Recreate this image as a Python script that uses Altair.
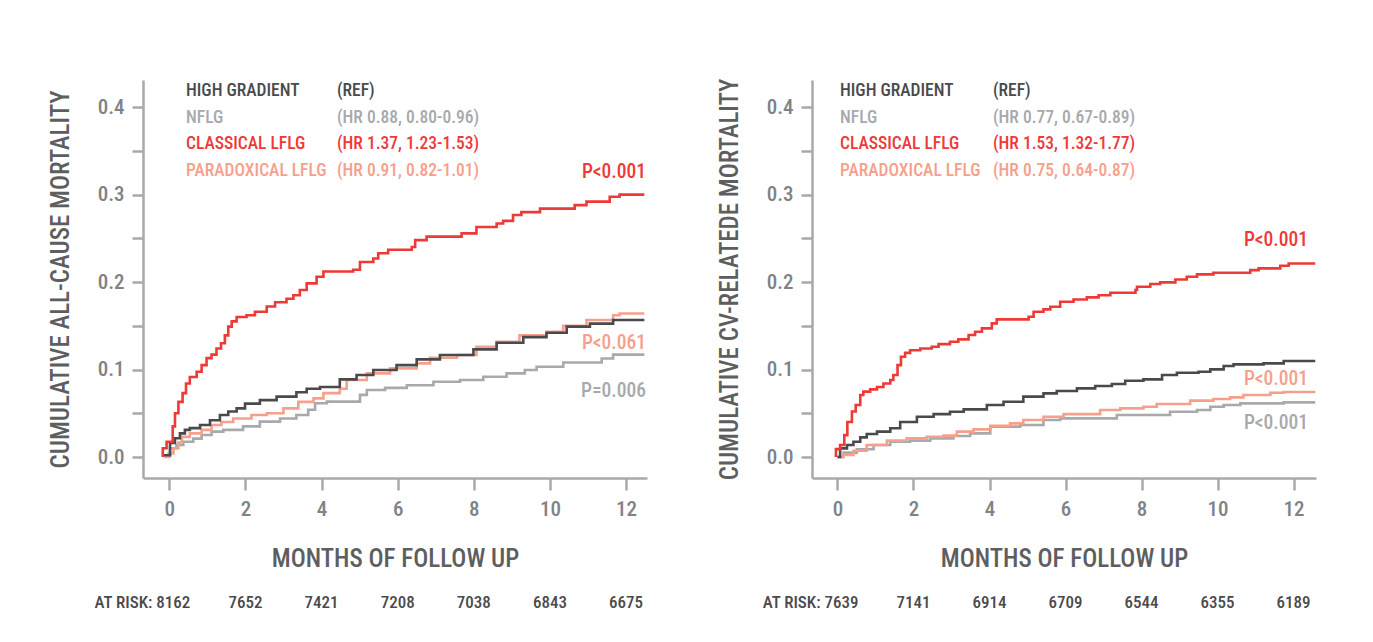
import altair as alt
import pandas as pd

FONT = "Roboto Condensed"

GROUPS = ["HIGH GRADIENT", "NFLG", "CLASSICAL LFLG", "PARADOXICAL LFLG"]
COLORS = ["#4a4a4c", "#a7a9ac", "#ee3a37", "#f6a08b"]
DRAW_ORDER = ["NFLG", "PARADOXICAL LFLG", "HIGH GRADIENT", "CLASSICAL LFLG"]

# ---------------- Left panel: all-cause mortality ----------------
L_HG_X = [-0.15, 0.02, 0.15, 0.28, 0.41, 0.54, 0.81, 1.07, 1.33, 1.55, 1.77, 1.99, 2.38, 2.82, 3.34, 3.61,
          3.96, 4.48, 4.92, 5.36, 5.97, 6.50, 7.11, 7.99, 8.6, 9.3, 9.91, 10.44, 11.05, 11.66, 12.48]
L_HG_Y = [0.002, 0.016, 0.0215, 0.027, 0.031, 0.033, 0.0366, 0.042, 0.048, 0.052, 0.0556, 0.061, 0.065, 0.069,
          0.074, 0.078, 0.080, 0.0888, 0.0937, 0.0994, 0.105, 0.1116, 0.1166, 0.123, 0.1306, 0.137, 0.142, 0.149,
          0.1525, 0.1566, 0.1566]
L_NF_X = [-0.13, 0.02, 0.19, 0.37, 0.63, 0.85, 1.11, 1.42, 1.94, 2.38, 2.91, 3.34, 3.65, 3.83, 4.14, 4.66,
          5.01, 5.19, 5.67, 6.24, 6.94, 7.64, 8.25, 8.86, 9.34, 9.65, 10.35, 11.36, 11.66, 12.48]
L_NF_Y = [0.001, 0.010, 0.0137, 0.0175, 0.021, 0.0252, 0.029, 0.031, 0.035, 0.0404, 0.044, 0.048, 0.054,
          0.0614, 0.0633, 0.0633, 0.071, 0.0766, 0.079, 0.082, 0.0861, 0.088, 0.0918, 0.0956, 0.0994, 0.1032,
          0.108, 0.1127, 0.117, 0.117]
L_CL_X = [-0.17, -0.17, -0.07, 0.09, 0.15, 0.24, 0.35, 0.44, 0.54, 0.72, 0.85, 0.98, 1.11, 1.24, 1.36, 1.46,
          1.55, 1.64, 1.77, 2.03, 2.25, 2.56, 2.78, 3.08, 3.26, 3.43, 3.61, 3.87, 4.05, 4.83, 5.01, 5.36, 5.49,
          5.75, 6.37, 6.46, 6.76, 7.68, 8.07, 8.6, 8.77, 9.03, 9.25, 9.74, 10.65, 10.96, 11.57, 11.83, 12.48]
L_CL_Y = [0, 0.010, 0.0175, 0.035, 0.05, 0.063, 0.073, 0.084, 0.0915, 0.0975, 0.105, 0.113, 0.117, 0.124,
          0.130, 0.139, 0.149, 0.155, 0.160, 0.162, 0.166, 0.172, 0.177, 0.181, 0.185, 0.191, 0.1985, 0.206,
          0.212, 0.214, 0.223, 0.227, 0.233, 0.237, 0.240, 0.248, 0.252, 0.2557, 0.263, 0.267, 0.270, 0.2766,
          0.280, 0.284, 0.288, 0.292, 0.2975, 0.300, 0.300]
L_PL_X = [-0.13, -0.02, 0.11, 0.24, 0.33, 0.54, 0.85, 1.11, 1.37, 1.68, 2.16, 2.56, 3.0, 3.39, 3.79, 4.05,
          4.48, 4.66, 5.19, 5.8, 6.5, 6.85, 7.56, 8.07, 8.6, 9.2, 9.91, 10.35, 10.96, 11.66, 11.83, 12.48]
L_PL_Y = [0, 0.004, 0.010, 0.0165, 0.023, 0.027, 0.031, 0.0366, 0.040, 0.044, 0.048, 0.050, 0.0556, 0.063,
          0.067, 0.073, 0.078, 0.088, 0.0956, 0.1013, 0.107, 0.1135, 0.1166, 0.126, 0.1317, 0.139, 0.143, 0.150,
          0.1566, 0.162, 0.164, 0.164]
L_HR = ["(REF)", "(HR 0.88, 0.80-0.96)", "(HR 1.37, 1.23-1.53)", "(HR 0.91, 0.82-1.01)"]
L_P = {"CLASSICAL LFLG": "P<0.001", "PARADOXICAL LFLG": "P<0.061", "NFLG": "P=0.006"}
L_RISK = [8162, 7652, 7421, 7208, 7038, 6843, 6675]

# ---------------- Right panel: CV-related mortality ----------------
R_HG_X = [0, 0.07, 0.25, 0.42, 0.6, 0.77, 1.04, 1.39, 1.65, 2.09, 2.53, 2.96, 3.32, 3.93, 4.37, 4.89, 5.42,
          5.77, 6.3, 6.78, 7.22, 7.57, 8.05, 8.54, 8.93, 9.5, 9.81, 10.16, 10.42, 11.21, 11.74, 12.57]
R_HG_Y = [0, 0.0099, 0.0137, 0.0175, 0.0225, 0.0263, 0.029, 0.0328, 0.040, 0.046, 0.049, 0.0518, 0.0545,
          0.0594, 0.0632, 0.069, 0.0728, 0.0754, 0.0785, 0.0811, 0.0834, 0.0872, 0.0888, 0.0937, 0.0964, 0.0975,
          0.1002, 0.104, 0.1059, 0.107, 0.1097, 0.1097]
R_NF_X = [0, 0.16, 0.51, 0.95, 1.39, 1.91, 2.44, 3.05, 3.49, 4.02, 4.81, 5.42, 5.86, 7.35, 8.75, 9.46, 9.81,
          10.16, 10.6, 11.74, 12.57]
R_NF_Y = [0, 0.005, 0.0088, 0.0137, 0.0175, 0.0187, 0.0213, 0.024, 0.027, 0.0347, 0.0366, 0.0423, 0.0442,
          0.048, 0.0518, 0.0537, 0.0575, 0.0594, 0.0613, 0.0625, 0.0625]
R_CL_X = [-0.04, -0.04, 0.07, 0.18, 0.26, 0.38, 0.48, 0.6, 0.68, 0.86, 1.04, 1.21, 1.39, 1.47, 1.58, 1.67,
          1.78, 1.91, 2.18, 2.48, 2.66, 2.96, 3.18, 3.45, 3.62, 3.8, 4.06, 4.19, 5.03, 5.16, 5.42, 5.6, 5.86,
          6.21, 6.56, 6.87, 7.18, 7.84, 7.88, 8.23, 8.49, 8.89, 9.19, 9.46, 9.89, 10.86, 11.08, 11.65, 11.87, 12.57]
R_CL_Y = [0, 0.009, 0.0137, 0.025, 0.040, 0.052, 0.0594, 0.0709, 0.0747, 0.0773, 0.080, 0.084, 0.088, 0.0937,
          0.105, 0.1147, 0.119, 0.122, 0.124, 0.126, 0.129, 0.1318, 0.1345, 0.1394, 0.1432, 0.147, 0.1528, 0.1573,
          0.1604, 0.166, 0.1688, 0.1718, 0.1775, 0.180, 0.1825, 0.185, 0.1878, 0.1909, 0.1947, 0.1977, 0.1996,
          0.203, 0.206, 0.2088, 0.2107, 0.2137, 0.2156, 0.2187, 0.2213, 0.2213]
R_PL_X = [0, 0.16, 0.42, 0.77, 1.3, 1.82, 2.35, 2.79, 3.14, 3.58, 4.02, 4.54, 4.89, 5.42, 5.95, 6.91, 7.44,
          8.05, 8.4, 9.28, 9.89, 10.33, 10.68, 11.39, 11.74, 12.57]
R_PL_Y = [0, 0.0023, 0.0072, 0.0137, 0.0187, 0.0213, 0.0232, 0.0244, 0.029, 0.0316, 0.0358, 0.0385, 0.0423,
          0.046, 0.049, 0.0537, 0.0556, 0.0575, 0.0606, 0.0644, 0.0663, 0.0682, 0.0709, 0.0735, 0.0743, 0.0743]
R_HR = ["(REF)", "(HR 0.77, 0.67-0.89)", "(HR 1.53, 1.32-1.77)", "(HR 0.75, 0.64-0.87)"]
R_P = {"CLASSICAL LFLG": "P<0.001", "PARADOXICAL LFLG": "P<0.001", "NFLG": "P<0.001"}
R_RISK = [7639, 7141, 6914, 6709, 6544, 6355, 6189]

RISK_MONTHS = [0, 2, 4, 6, 8, 10, 12]

W, H = 504, 398
YDOM = [-0.024, 0.431]
AXIS_C = "#a7a9ac"
LABEL_C = "#808285"
TITLE_C = "#5d5e60"
WEIGHT = 500


def panel(curves, hr, pvals, risk, ytitle, xdom, leg_x, hr_x, p_x, p_y):
    color = alt.Scale(domain=GROUPS, range=COLORS)
    xs = alt.Scale(domain=xdom, nice=False, zero=False)
    ys = alt.Scale(domain=YDOM, nice=False, zero=False)
    xaxis = alt.Axis(values=RISK_MONTHS, format="d", title="MONTHS OF FOLLOW UP", grid=False,
                     domainColor=AXIS_C, domainWidth=2.5, tickColor=AXIS_C, tickWidth=2.5, tickSize=12,
                     labelFontSize=21, labelColor=LABEL_C, labelPadding=8, labelFlush=False,
                     labelFontWeight=WEIGHT,
                     titleFontSize=25, titleColor=TITLE_C, titleFontWeight=WEIGHT, titlePadding=27)
    yaxis = alt.Axis(values=[i * 0.05 for i in range(9)],
                     labelExpr="round(datum.value*20) % 2 == 0 ? format(datum.value, '.1f') : ''",
                     title=ytitle, grid=False,
                     domainColor=AXIS_C, domainWidth=2.5, tickColor=AXIS_C, tickWidth=2.5, tickSize=11,
                     labelFontSize=21, labelColor=LABEL_C, labelPadding=8, labelFlush=False,
                     labelFontWeight=WEIGHT,
                     titleFontSize=25, titleColor=TITLE_C, titleFontWeight=WEIGHT, titlePadding=24)
    X = alt.X("month:Q", scale=xs, axis=xaxis)
    layers = []
    for g in DRAW_ORDER:
        gx, gy = curves[g]
        df = pd.DataFrame({"month": gx, "value": gy, "group": g})
        layers.append(
            alt.Chart(df).mark_line(interpolate="step-after", strokeWidth=2.6, clip=True).encode(
                x=X,
                y=alt.Y("value:Q", scale=ys, axis=yaxis),
                color=alt.Color("group:N", scale=color, legend=None),
            )
        )
    # legend block
    for i, g in enumerate(GROUPS):
        d = pd.DataFrame({"group": [g], "label": [g], "hr": [hr[i]]})
        row_y = 11 + i * 26.7
        layers.append(alt.Chart(d).mark_text(align="left", baseline="middle", fontSize=17.5,
                                             fontWeight=WEIGHT, x=leg_x, y=row_y).encode(
            text="label:N", color=alt.Color("group:N", scale=color, legend=None)))
        layers.append(alt.Chart(d).mark_text(align="left", baseline="middle", fontSize=17.5,
                                             fontWeight=WEIGHT, x=hr_x, y=row_y).encode(
            text="hr:N", color=alt.Color("group:N", scale=color, legend=None)))
    # p-values
    for g, ptxt in pvals.items():
        d = pd.DataFrame({"group": [g], "p": [ptxt]})
        layers.append(alt.Chart(d).mark_text(align="right", baseline="middle", fontSize=19.5,
                                             fontWeight=WEIGHT, x=p_x, y=p_y[g]).encode(
            text="p:N", color=alt.Color("group:N", scale=color, legend=None)))
    # at-risk row
    rdf = pd.DataFrame({"month": RISK_MONTHS, "n": risk})
    layers.append(alt.Chart(rdf).transform_filter("datum.month > 0").mark_text(
        align="center", baseline="middle", fontSize=17, fontWeight=WEIGHT, color="#4a4a4c").encode(
        x=X, y=alt.value(523), text="n:Q"))
    layers.append(alt.Chart(rdf).transform_filter("datum.month == 0").transform_calculate(
        t="'AT RISK: ' + datum.n").mark_text(
        align="right", baseline="middle", fontSize=17, fontWeight=WEIGHT, color="#4a4a4c", dx=21).encode(
        x=X, y=alt.value(523), text="t:N"))
    return alt.layer(*layers).properties(width=W, height=H)


left = panel(
    {"HIGH GRADIENT": (L_HG_X, L_HG_Y), "NFLG": (L_NF_X, L_NF_Y),
     "CLASSICAL LFLG": (L_CL_X, L_CL_Y), "PARADOXICAL LFLG": (L_PL_X, L_PL_Y)},
    L_HR, L_P, L_RISK, "CUMULATIVE ALL-CAUSE MORTALITY", [-0.69, 12.55],
    leg_x=43, hr_x=194, p_x=503,
    p_y={"CLASSICAL LFLG": 92, "PARADOXICAL LFLG": 263, "NFLG": 311})
right = panel(
    {"HIGH GRADIENT": (R_HG_X, R_HG_Y), "NFLG": (R_NF_X, R_NF_Y),
     "CLASSICAL LFLG": (R_CL_X, R_CL_Y), "PARADOXICAL LFLG": (R_PL_X, R_PL_Y)},
    R_HR, R_P, R_RISK, "CUMULATIVE CV-RELATEDE MORTALITY", [-0.67, 12.59],
    leg_x=28, hr_x=181, p_x=496,
    p_y={"CLASSICAL LFLG": 160, "PARADOXICAL LFLG": 299, "NFLG": 343})

chart = alt.hconcat(left, right, spacing=70).properties(
    padding={"left": 40, "top": 70, "right": 5, "bottom": 5},
    background="white",
).configure(font=FONT).configure_view(stroke=None)

chart.save("out.html", embed_options={"renderer": "svg", "actions": False})
